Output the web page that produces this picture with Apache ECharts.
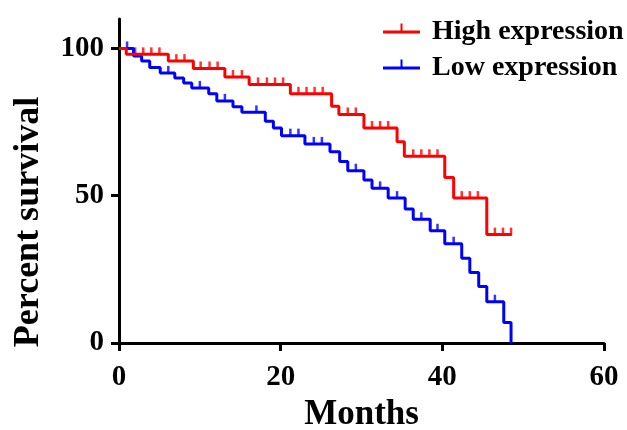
<!DOCTYPE html>
<html>
<head>
<meta charset="utf-8">
<script src="https://cdn.jsdelivr.net/npm/echarts@6/dist/echarts.min.js"></script>
<style>
  html, body { margin: 0; padding: 0; background: #fff; }
  #main { width: 627px; height: 430px; }
</style>
</head>
<body>
<div id="main"></div>
<script>
// high expression: times of drops (months) and survival after each drop
var highTimes = [0, 0.9, 6.1, 9.2, 13.1, 16.1, 21.2, 26.3, 27.2, 30.3, 34.4, 35.3, 40.3, 41.4, 45.5, 48.6];
var highSurv = [100, 98, 95.7, 93.2, 90.3, 87.8, 84.6, 80.4, 77.6, 73, 68.3, 63.4, 56.2, 49.2, 36.8, 36.8];
var highCensor = [2, 3, 4, 5, 7.1, 8.1, 10.1, 11.2, 12.2, 14.1, 15.2, 17.2, 18.3, 19.3, 20.3,
  22.2, 23.2, 24.2, 25.2, 28.3, 29.3, 31.3, 32.3, 33.3, 36.4, 37.4, 38.4, 39.4,
  42.4, 43.4, 44.4, 46.5, 47.5, 48.5];

// low expression
var lowTimes = [0, 1.8, 2.8, 3.8, 5.1, 6.9, 8.0, 9.0, 11.1, 12.1, 14.1, 15.2, 18.1, 19.1, 20.1, 23.0,
  26.1, 27.3, 28.3, 30.3, 31.3, 33.3, 35.4, 36.4, 38.5, 40.3, 42.4, 43.4, 44.5, 45.5, 47.6, 48.5];
var lowSurv = [100, 97.4, 95.7, 93.5, 91.7, 90, 88.3, 86.6, 84.6, 82.2, 80.2, 78.3, 75.3, 73, 70.4, 67.6,
  64.9, 61.6, 58.5, 55.3, 52.5, 49.2, 45.5, 42, 38.1, 33.7, 28.8, 23.9, 19.2, 14, 7, 0];
var lowCensor = [1.0, 6.1, 10.0, 13.1, 17.0, 21.2, 22.2, 24.1, 25.1, 29.3, 32.3, 34.4, 37.4, 39.4, 41.4, 46.5];

var xTicks = [0, 20, 40, 60];
var yTicks = [0, 50, 100];

var seriesNames = ['High expression', 'Low expression'];
var red = '#ff0000', blue = '#0000ff';
var font = 'Liberation Serif';

function pairs(t, s) {
  return t.map(function (v, i) { return [v, s[i]]; });
}
// survival level of the step curve at time x
function levelAt(t, s, x) {
  var v = s[0];
  for (var i = 0; i < t.length; i++) {
    if (t[i] <= x) v = s[i];
  }
  return v;
}
function censorPts(c, t, s) {
  return c.map(function (x) { return [x, levelAt(t, s, x)]; });
}

var legendIcon = 'path://M0,7 L37,7 L37,10 L0,10 Z M17.5,0 L19.5,0 L19.5,7 L17.5,7 Z M0,17 Z';

var myChart = echarts.init(document.getElementById('main'), null, { renderer: 'canvas' });

var option = {
  animation: false,
  backgroundColor: '#fff',
  grid: { left: 119, right: 23, top: 19, bottom: 87, outerBoundsMode: 'none' },
  legend: {
    orient: 'vertical',
    left: 378,
    top: 13,
    itemWidth: 37,
    itemHeight: 17,
    itemGap: 8,
    textStyle: { fontFamily: font, fontWeight: 'bold', fontSize: 28, color: '#000', padding: [0, 0, 0, 7] },
    data: [
      { name: seriesNames[0], icon: legendIcon, itemStyle: { color: red } },
      { name: seriesNames[1], icon: legendIcon, itemStyle: { color: blue } }
    ]
  },
  xAxis: {
    type: 'value',
    min: 0, max: 60, interval: 20,
    name: 'Months',
    nameLocation: 'middle',
    nameGap: 54,
    nameTextStyle: { fontFamily: font, fontWeight: 'bold', fontSize: 35, color: '#000' },
    splitLine: { show: false },
    axisLine: { show: true, lineStyle: { color: '#000', width: 3 } },
    axisTick: { show: true, length: 8, lineStyle: { color: '#000', width: 3 }, customValues: xTicks },
    axisLabel: { margin: 20, fontFamily: font, fontWeight: 'bold', fontSize: 29, color: '#000', customValues: xTicks }
  },
  yAxis: {
    type: 'value',
    min: 0, max: 110, interval: 50,
    name: 'Percent survival',
    nameLocation: 'middle',
    nameGap: 72,
    nameTextStyle: { fontFamily: font, fontWeight: 'bold', fontSize: 36, color: '#000', padding: [0, 82, 0, 0] },
    splitLine: { show: false },
    axisLine: { show: true, lineStyle: { color: '#000', width: 3 } },
    axisTick: { show: true, length: 8, lineStyle: { color: '#000', width: 3 }, customValues: yTicks },
    axisLabel: { margin: 15, fontFamily: font, fontWeight: 'bold', fontSize: 29, color: '#000', customValues: yTicks }
  },
  series: [
    {
      name: seriesNames[1],
      type: 'line',
      step: 'end',
      symbol: 'none',
      color: blue,
      lineStyle: { color: blue, width: 3 },
      data: pairs(lowTimes, lowSurv)
    },
    {
      name: seriesNames[1],
      type: 'scatter',
      symbol: 'rect',
      symbolSize: [2.5, 7],
      symbolOffset: [0, -3.5],
      itemStyle: { color: blue },
      data: censorPts(lowCensor, lowTimes, lowSurv)
    },
    {
      name: seriesNames[0],
      type: 'line',
      step: 'end',
      symbol: 'none',
      color: red,
      lineStyle: { color: red, width: 3 },
      data: pairs(highTimes, highSurv)
    },
    {
      name: seriesNames[0],
      type: 'scatter',
      symbol: 'rect',
      symbolSize: [2.5, 7],
      symbolOffset: [0, -3.5],
      itemStyle: { color: red },
      data: censorPts(highCensor, highTimes, highSurv)
    }
  ]
};

myChart.setOption(option);
</script>
</body>
</html>
